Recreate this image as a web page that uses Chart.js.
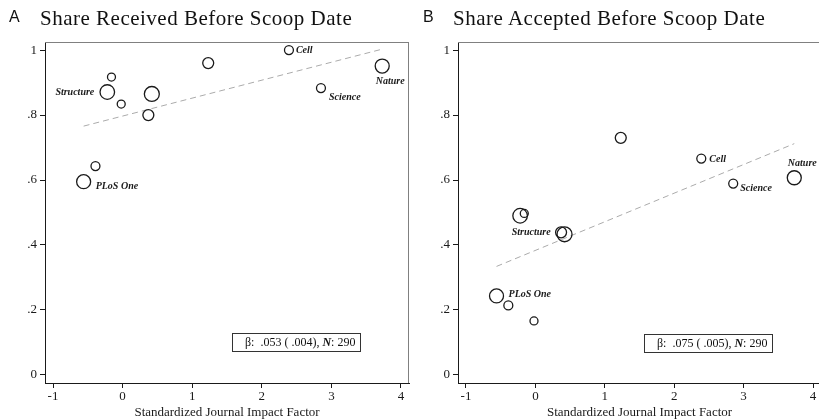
<!DOCTYPE html>
<html>
<head>
<meta charset="utf-8">
<script src="https://cdn.jsdelivr.net/npm/chart.js@4.4.0/dist/chart.umd.min.js"></script>
<style>
  html, body { margin: 0; padding: 0; background: #fff; overflow: hidden; }
  body { width: 819px; height: 420px; position: relative; }
  .panel { position: absolute; top: 0; height: 420px; }
  #panelA { left: 0; width: 410px; }
  #panelB { left: 410px; width: 412px; }
  .letter { position: absolute; top: 9px; font: 16px "Liberation Sans", Arial, sans-serif; line-height: 16px; color: #111; }
  .title { position: absolute; top: 8px; font: 21px "Liberation Serif", serif; line-height: 21px; letter-spacing: 0.5px; color: #111; white-space: nowrap; }
  .stat { position: absolute; width: 129px; height: 19px; box-sizing: border-box; border: 1px solid #333;
          font: 12px "Liberation Serif", serif; line-height: 17px; padding-left: 12px; color: #111; white-space: nowrap; }
</style>
</head>
<body>
<div class="panel" id="panelA"><canvas id="chartA"></canvas></div>
<div class="panel" id="panelB"><canvas id="chartB"></canvas></div>

<div class="letter" style="left:9px">A</div>
<div class="title" style="left:40px">Share Received Before Scoop Date</div>
<div class="letter" style="left:423px">B</div>
<div class="title" style="left:453px">Share Accepted Before Scoop Date</div>

<div class="stat" id="statA" style="left:232px; top:333px"></div>
<div class="stat" id="statB" style="left:644px; top:334px"></div>

<script>
// journals (one marker per journal)
const journalNames = ['PLoS One', '', 'Structure', '', '', '', '', '', 'Cell', 'Science', 'Nature'];
const impactFactor = [-0.56, -0.39, -0.22, -0.16, -0.02, 0.37, 0.42, 1.23, 2.39, 2.85, 3.73];
const journalWeight = [49, 20, 53, 16, 16, 30, 56, 30, 20, 20, 49];

// panel values
const shareReceived = [0.595, 0.643, 0.871, 0.917, 0.834, 0.800, 0.865, 0.960, 1.000, 0.883, 0.951];
const shareAccepted = [0.243, 0.214, 0.490, 0.497, 0.166, 0.439, 0.433, 0.730, 0.666, 0.589, 0.607];

// fitted lines (end points)
const fitX = [-0.56, 3.73];
const fitReceived = [0.766, 1.003];
const fitAccepted = [0.334, 0.712];

// ticks
const xTicks = [-1, 0, 1, 2, 3, 4];
const yTicks = [0, 0.2, 0.4, 0.6, 0.8, 1];

// regression stats
const statReceived = ['.053', '.004', 290];
const statAccepted = ['.075', '.005', 290];

const serif = '"Liberation Serif", "Times New Roman", serif';
const ink = '#1a1a1a';

function statHtml(s) {
    return `β:&nbsp; ${s[0]} ( ${s[1]}), <b><i>N</i></b>: ${s[2]}`;
}
document.getElementById('statA').innerHTML = statHtml(statReceived);
document.getElementById('statB').innerHTML = statHtml(statAccepted);

// gray top/right edges of the plot region
const framePlugin = {
    id: 'frame',
    beforeDatasetsDraw(chart) {
        const { ctx, chartArea: a } = chart;
        ctx.save();
        ctx.strokeStyle = '#808080';
        ctx.lineWidth = 1;
        ctx.beginPath();
        ctx.moveTo(a.left, a.top + 0.5);
        ctx.lineTo(a.right, a.top + 0.5);
        ctx.moveTo(a.right - 0.5, a.top);
        ctx.lineTo(a.right - 0.5, a.bottom);
        ctx.stroke();
        ctx.restore();
    }
};

// journal name labels next to markers
const labelPlugin = {
    id: 'journalLabels',
    afterDatasetsDraw(chart, args, opts) {
        const { ctx } = chart;
        const xs = chart.scales.x, ys = chart.scales.y;
        const values = opts.values;
        ctx.save();
        ctx.font = 'italic bold 10px ' + serif;
        ctx.fillStyle = ink;
        ctx.textBaseline = 'middle';
        opts.places.forEach(([idx, align, dx, dy]) => {
            const px = xs.getPixelForValue(impactFactor[idx]);
            const py = ys.getPixelForValue(values[idx]);
            ctx.textAlign = align;
            ctx.fillText(journalNames[idx], px + dx, py + dy);
        });
        ctx.restore();
    }
};

function makePanel(canvasId, values, fitY, yAxisWidth, places) {
    return new Chart(document.getElementById(canvasId), {
        type: 'bubble',
        data: {
            datasets: [{
                data: impactFactor.map((x, i) => ({ x: x, y: values[i], r: Math.sqrt(journalWeight[i]) })),
                backgroundColor: 'rgba(0,0,0,0)',
                borderColor: ink,
                borderWidth: 1.3,
                hoverRadius: 0
            }, {
                type: 'line',
                data: fitX.map((x, i) => ({ x: x, y: fitY[i] })),
                borderColor: '#ababab',
                borderWidth: 1,
                borderDash: [6, 4],
                pointRadius: 0,
                fill: false
            }]
        },
        options: {
            responsive: true,
            maintainAspectRatio: false,
            animation: false,
            events: [],
            layout: { autoPadding: false, padding: { top: 42, right: 1, bottom: 0, left: 0 } },
            plugins: {
                legend: { display: false },
                tooltip: { enabled: false },
                journalLabels: { values: values, places: places }
            },
            scales: {
                x: {
                    type: 'linear',
                    min: -1.115,
                    max: 4.115,
                    afterBuildTicks: s => { s.ticks = xTicks.map(v => ({ value: v })); },
                    afterFit: s => { s.height = 37; s.paddingLeft = 0; s.paddingRight = 0; },
                    grid: { drawOnChartArea: false, drawTicks: true, tickLength: 5, color: ink },
                    border: { display: true, color: ink, width: 1 },
                    ticks: { font: { family: serif, size: 13 }, color: ink, padding: 1, maxRotation: 0,
                             callback: v => String(v) },
                    title: { display: true, text: 'Standardized Journal Impact Factor',
                             font: { family: serif, size: 13 }, color: ink, padding: 0 }
                },
                y: {
                    type: 'linear',
                    min: -0.025,
                    max: 1.025,
                    afterBuildTicks: s => { s.ticks = yTicks.map(v => ({ value: v })); },
                    afterFit: s => { s.width = yAxisWidth; s.paddingTop = 0; s.paddingBottom = 0; },
                    grid: { drawOnChartArea: false, drawTicks: true, tickLength: 5, color: ink },
                    border: { display: true, color: ink, width: 1 },
                    ticks: { font: { family: serif, size: 13 }, color: ink, padding: 3,
                             callback: v => (v === 0 ? '0' : v === 1 ? '1' : v.toFixed(1).replace(/^0/, '')) }
                }
            }
        },
        plugins: [framePlugin, labelPlugin]
    });
}

makePanel('chartA', shareReceived, fitReceived, 45, [
    [0, 'left', 12, 5],
    [2, 'right', -13, 0],
    [8, 'left', 7, 0],
    [9, 'left', 8, 9],
    [10, 'center', 8, 15]
]);

makePanel('chartB', shareAccepted, fitAccepted, 48, [
    [0, 'left', 12, -2],
    [2, 'center', 11, 17],
    [8, 'left', 8, 1],
    [9, 'left', 7, 5],
    [10, 'center', 8, -14]
]);
</script>
</body>
</html>
